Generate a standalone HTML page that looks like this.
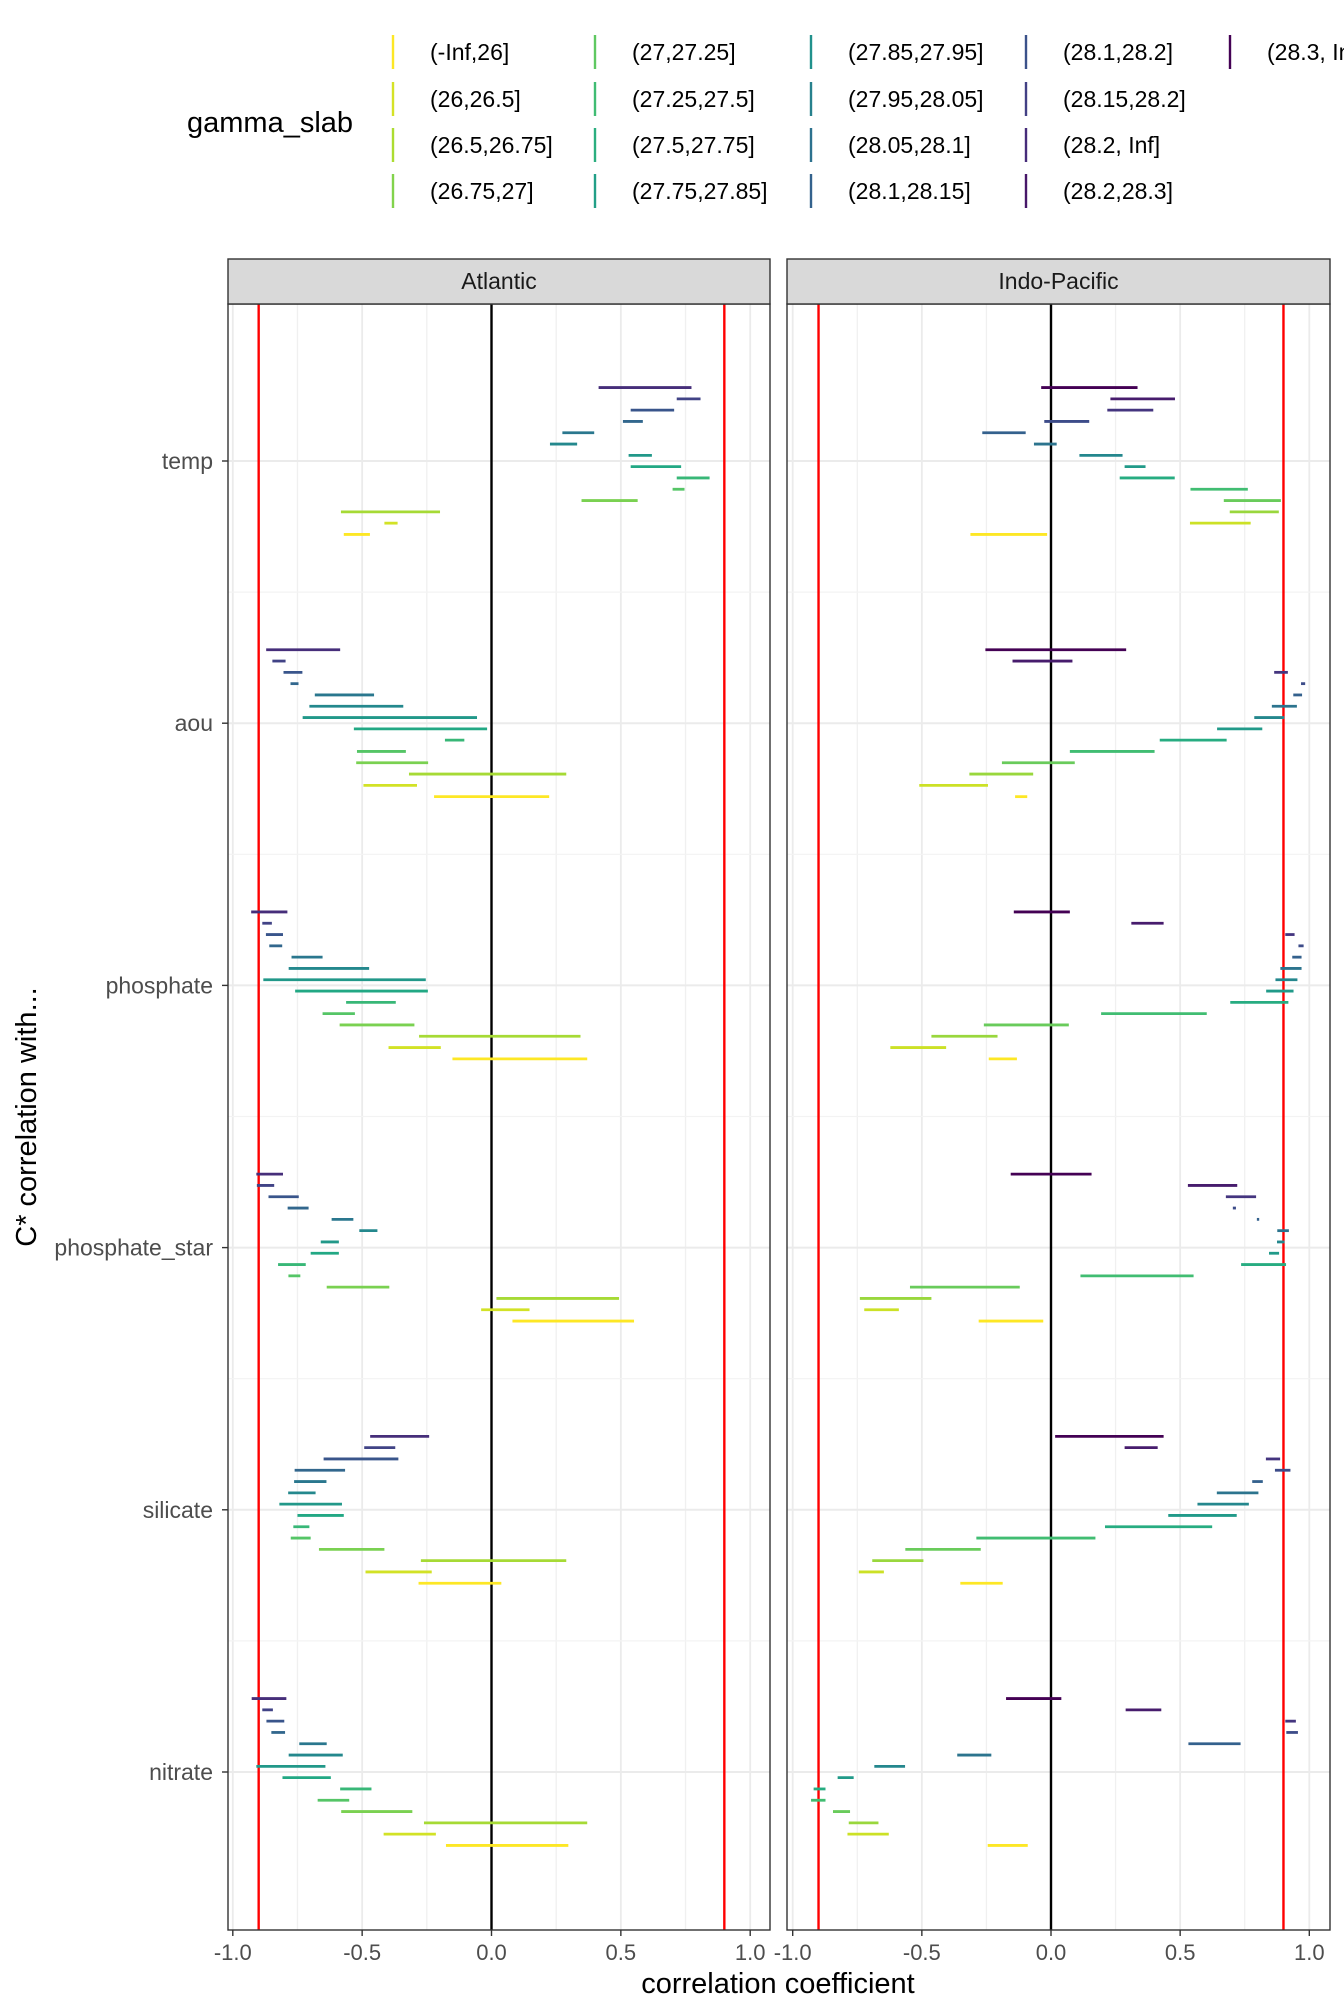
<!DOCTYPE html>
<html><head><meta charset="utf-8"><style>
html,body{margin:0;padding:0;background:#fff;}
svg{display:block;font-family:"Liberation Sans",Arial,sans-serif;}
</style></head><body>
<svg id="chart" width="1344" height="2016" viewBox="0 0 1344 2016" xmlns="http://www.w3.org/2000/svg">
<g id="legend"></g>
<g id="panels"></g>
<text x="778" y="1993" font-size="29" text-anchor="middle" fill="#000">correlation coefficient</text>
<text transform="translate(36,1117) rotate(-90)" font-size="29" text-anchor="middle" fill="#000">C* correlation with...</text>
</svg>
<script>
const categories = ["temp","aou","phosphate","phosphate_star","silicate","nitrate"];
const panelNames = ["Atlantic","Indo-Pacific"];
const legendLevels = ["(-Inf,26]","(26,26.5]","(26.5,26.75]","(26.75,27]","(27,27.25]","(27.25,27.5]","(27.5,27.75]","(27.75,27.85]","(27.85,27.95]","(27.95,28.05]","(28.05,28.1]","(28.1,28.15]","(28.1,28.2]","(28.15,28.2]","(28.2, Inf]","(28.2,28.3]","(28.3, Inf]"];
const xTicks = [-1,-0.5,0,0.5,1];
const xTickLabels = ["-1.0","-0.5","0.0","0.5","1.0"];
const thresholds = [-0.9,0.9];
const atlTemp = [[0.414,0.773],[0.716,0.808],[0.538,0.706],[0.508,0.585],[0.274,0.397],[0.226,0.331],[0.530,0.620],[0.538,0.733],[0.716,0.843],[0.700,0.746],[0.348,0.565],[-0.582,-0.199],[-0.414,-0.363],[-0.571,-0.470]];
const atlAou = [[-0.871,-0.585],[-0.847,-0.796],[-0.804,-0.731],[-0.777,-0.746],[-0.683,-0.454],[-0.704,-0.341],[-0.730,-0.056],[-0.532,-0.017],[-0.180,-0.105],[-0.520,-0.331],[-0.523,-0.245],[-0.319,0.289],[-0.495,-0.288],[-0.222,0.223]];
const atlPhos = [[-0.929,-0.789],[-0.886,-0.849],[-0.872,-0.806],[-0.859,-0.809],[-0.773,-0.653],[-0.784,-0.473],[-0.882,-0.254],[-0.759,-0.246],[-0.562,-0.370],[-0.653,-0.528],[-0.587,-0.298],[-0.280,0.344],[-0.398,-0.196],[-0.151,0.370]];
const atlPstar = [[-0.909,-0.806],[-0.907,-0.840],[-0.862,-0.745],[-0.788,-0.707],[-0.618,-0.534],[-0.511,-0.441],[-0.660,-0.590],[-0.699,-0.590],[-0.825,-0.718],[-0.785,-0.739],[-0.637,-0.395],[0.019,0.493],[-0.040,0.147],[0.081,0.551]];
const atlSil = [[-0.469,-0.241],[-0.492,-0.372],[-0.649,-0.360],[-0.761,-0.566],[-0.763,-0.638],[-0.786,-0.680],[-0.820,-0.578],[-0.750,-0.571],[-0.766,-0.704],[-0.776,-0.699],[-0.667,-0.414],[-0.273,0.289],[-0.487,-0.231],[-0.282,0.038]];
const atlNit = [[-0.927,-0.793],[-0.886,-0.845],[-0.870,-0.801],[-0.851,-0.798],[-0.743,-0.637],[-0.784,-0.575],[-0.909,-0.642],[-0.808,-0.621],[-0.585,-0.464],[-0.672,-0.550],[-0.581,-0.306],[-0.261,0.370],[-0.417,-0.215],[-0.176,0.297]];
const indTemp = [[-0.038,0.335],[0.230,0.480],[0.218,0.396],[-0.026,0.148],[-0.266,-0.098],[-0.066,0.022],[0.110,0.277],[0.285,0.366],[0.266,0.479],[0.540,0.762],[0.669,0.890],[0.692,0.882],[0.538,0.773],[-0.312,-0.015]];
const indAou = [[-0.254,0.291],[-0.149,0.083],[0.864,0.917],[0.968,0.984],[0.938,0.972],[0.855,0.952],[0.787,0.903],[0.643,0.818],[0.421,0.680],[0.073,0.401],[-0.190,0.092],[-0.316,-0.069],[-0.510,-0.244],[-0.139,-0.092]];
const indPhos = [[-0.144,0.073],[0.311,0.436],[0.907,0.943],[0.958,0.978],[0.934,0.970],[0.888,0.970],[0.869,0.954],[0.833,0.939],[0.694,0.919],[0.194,0.603],[-0.260,0.069],[-0.463,-0.207],[-0.622,-0.406],[-0.241,-0.132]];
const indPstar = [[-0.156,0.157],[0.530,0.721],[0.677,0.794],[0.704,0.716],[0.797,0.806],[0.876,0.921],[0.875,0.904],[0.844,0.883],[0.736,0.910],[0.114,0.552],[-0.546,-0.121],[-0.740,-0.463],[-0.723,-0.589],[-0.280,-0.030]];
const indSil = [[0.016,0.436],[0.285,0.413],[0.832,0.887],[0.867,0.927],[0.779,0.820],[0.642,0.803],[0.567,0.766],[0.454,0.719],[0.209,0.624],[-0.289,0.172],[-0.564,-0.272],[-0.692,-0.494],[-0.744,-0.647],[-0.351,-0.187]];
const indNit = [[-0.174,0.040],[0.289,0.427],[0.907,0.948],[0.911,0.956],[0.532,0.734],[-0.363,-0.231],[-0.684,-0.565],[-0.826,-0.764],[-0.919,-0.873],[-0.929,-0.873],[-0.844,-0.778],[-0.783,-0.668],[-0.788,-0.628],[-0.245,-0.090]];

const panelData = [[atlTemp,atlAou,atlPhos,atlPstar,atlSil,atlNit],[indTemp,indAou,indPhos,indPstar,indSil,indNit]];

const NS="http://www.w3.org/2000/svg";
function mk(tag,attrs,parent){const e=document.createElementNS(NS,tag);for(const k in attrs)e.setAttribute(k,attrs[k]);parent.appendChild(e);return e;}
const vstops=["#440154","#482475","#414487","#355f8d","#2a788e","#21918c","#22a884","#44bf70","#7ad151","#bddf26","#fde725"];
function hex(c){return [1,3,5].map(i=>parseInt(c.substr(i,2),16));}
function viridis(t){t=Math.max(0,Math.min(1,t));const p=t*10,i=Math.min(9,Math.floor(p)),f=p-i;const a=hex(vstops[i]),b=hex(vstops[i+1]);return "rgb("+a.map((v,j)=>Math.round(v+(b[j]-v)*f)).join(",")+")";}

const panels=[{left:228,right:770,x0:491.5,unit:258.7},{left:787,right:1330,x0:1051,unit:258.3}];
const stripTop=259, panelTop=304, panelBottom=1930;
const catY0=461, catStep=262.2, rowStep=11.3, nRows=14;
const rowT=[i=>0.13+0.87*i/13, i=>i/13];

const pg=document.getElementById('panels');
panels.forEach((p,pi)=>{
  const xs=v=>p.x0+v*p.unit;
  const g=mk('g',{},pg);
  
  
  const bg=mk('rect',{x:p.left,y:panelTop,width:p.right-p.left,height:panelBottom-panelTop,fill:'#fff'},g);
  
  
  for(let v=-0.75;v<=1.0;v+=0.5){const l=mk('line',{x1:xs(v),x2:xs(v),y1:panelTop,y2:panelBottom,stroke:'#f0f0f0','stroke-width':1.3},g);}
  xTicks.forEach(v=>{const l=mk('line',{x1:xs(v),x2:xs(v),y1:panelTop,y2:panelBottom,stroke:'#ebebeb','stroke-width':1.8},g);});
  categories.forEach((c,ci)=>{
    const cy=catY0+ci*catStep;
    const l=mk('line',{x1:p.left,x2:p.right,y1:cy,y2:cy,stroke:'#ebebeb','stroke-width':2},g);
    
    
    if(ci<categories.length-1){const m=mk('line',{x1:p.left,x2:p.right,y1:cy+catStep/2,y2:cy+catStep/2,stroke:'#f3f3f3','stroke-width':1.2},g);}
  });
  const zl=mk('line',{x1:xs(0),x2:xs(0),y1:panelTop,y2:panelBottom,stroke:'#000','stroke-width':2.4},g);
  
  
  thresholds.forEach(v=>{const r=mk('line',{x1:xs(v),x2:xs(v),y1:panelTop,y2:panelBottom,stroke:'#ff0000','stroke-width':2.4},g);});
  panelData[pi].forEach((rows,ci)=>{
    const cy=catY0+ci*catStep;
    rows.forEach((seg,ri)=>{
      const y=cy+(ri-(nRows-1)/2)*rowStep;
      const s=mk('line',{x1:xs(seg[0]),x2:xs(seg[1]),y1:y,y2:y,stroke:viridis(rowT[pi](ri)),'stroke-width':2.8},g);
      
      
    });
  });
  const bd=mk('rect',{x:p.left,y:panelTop,width:p.right-p.left,height:panelBottom-panelTop,fill:'none',stroke:'#333','stroke-width':1.4},g);
  
  
  const st=mk('rect',{x:p.left,y:stripTop,width:p.right-p.left,height:panelTop-stripTop,fill:'#d9d9d9',stroke:'#333','stroke-width':1.4},g);
  
  
  const stt=mk('text',{x:(p.left+p.right)/2,y:stripTop+30,'font-size':23,'text-anchor':'middle',fill:'#1a1a1a'},g);
  stt.textContent=panelNames[pi];
  
  
  xTicks.forEach((v,ti)=>{
    const t=mk('line',{x1:xs(v),x2:xs(v),y1:panelBottom,y2:panelBottom+6,stroke:'#333','stroke-width':1.4},g);
    
    
    const tl=mk('text',{x:xs(v),y:panelBottom+30,'font-size':22,'text-anchor':'middle',fill:'#4d4d4d'},g);
    tl.textContent=xTickLabels[ti];
    
    
  });
});
categories.forEach((c,ci)=>{
  const cy=catY0+ci*catStep;
  const t=mk('line',{x1:222,x2:228,y1:cy,y2:cy,stroke:'#333','stroke-width':1.4},pg);
  
  
  const tl=mk('text',{x:213,y:cy+8,'font-size':23,'text-anchor':'end',fill:'#4d4d4d'},pg);
  tl.textContent=c;
  
  
});
const lg=document.getElementById('legend');
const lt=mk('text',{x:187,y:132,'font-size':29,fill:'#000'},lg);
lt.textContent='gamma_slab';


const colX=[393,595,811,1026,1230], rowY=[52,99,145,191];
legendLevels.forEach((lv,k)=>{
  const col=Math.floor(k/4), row=k%4;
  const g=mk('g',{},lg);
  
  
  mk('line',{x1:colX[col],x2:colX[col],y1:rowY[row]-17,y2:rowY[row]+17,stroke:viridis(1-k/16),'stroke-width':2.4},g);
  const t=mk('text',{x:colX[col]+37,y:rowY[row]+8,'font-size':23,fill:'#000'},g);
  t.textContent=lv;
});
</script>
</body></html>
